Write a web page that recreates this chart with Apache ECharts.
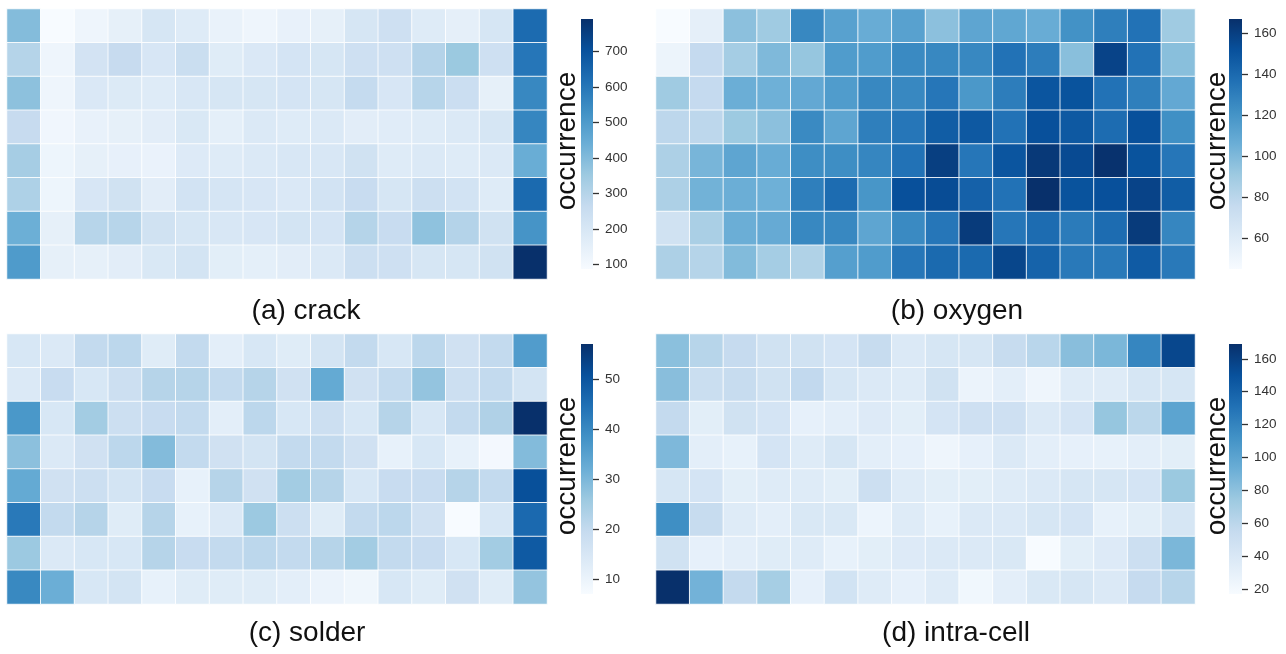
<!DOCTYPE html>
<html>
<head>
<meta charset="utf-8">
<script src="https://cdn.jsdelivr.net/npm/echarts@6/dist/echarts.min.js"></script>
<style>
  html, body { margin: 0; padding: 0; background: #ffffff; }
  #chart { width: 1286px; height: 654px; }
</style>
</head>
<body>
<div id="chart"></div>
<script>
// Occurrence counts per defect type: 8 rows (top to bottom) x 16 columns.
const rowIds = [0, 1, 2, 3, 4, 5, 6, 7];
const colIds = [0, 1, 2, 3, 4, 5, 6, 7, 8, 9, 10, 11, 12, 13, 14, 15];

const crack = [
  [397, 87, 120, 148, 205, 175, 138, 120, 141, 148, 205, 234, 175, 151, 205, 633],
  [300, 120, 217, 261, 201, 248, 172, 190, 212, 205, 234, 234, 303, 356, 234, 602],
  [380, 120, 190, 182, 175, 197, 205, 205, 212, 205, 265, 201, 296, 245, 148, 554],
  [261, 112, 141, 148, 162, 193, 155, 186, 175, 186, 162, 169, 175, 186, 205, 559],
  [334, 121, 148, 145, 134, 179, 175, 186, 197, 197, 227, 175, 186, 175, 186, 443],
  [316, 121, 201, 227, 162, 219, 208, 201, 190, 219, 256, 205, 241, 219, 175, 636],
  [437, 148, 296, 296, 227, 205, 197, 201, 215, 212, 300, 256, 377, 303, 227, 520],
  [499, 148, 148, 162, 193, 215, 160, 155, 162, 186, 241, 234, 205, 205, 227, 792]
];

const oxygen = [
  [45, 56, 96, 90, 126, 113, 107, 113, 96, 111, 110, 107, 121, 130, 136, 90],
  [52, 76, 88, 100, 93, 116, 116, 125, 126, 126, 136, 131, 97, 158, 136, 97],
  [90, 76, 106, 105, 109, 116, 126, 126, 134, 118, 131, 150, 151, 136, 130, 109],
  [79, 79, 91, 96, 125, 111, 130, 134, 146, 148, 136, 152, 148, 139, 152, 122],
  [85, 102, 111, 107, 123, 123, 127, 136, 160, 134, 150, 163, 155, 166, 151, 134],
  [85, 104, 106, 105, 130, 139, 119, 152, 154, 144, 136, 167, 151, 152, 158, 146],
  [69, 86, 106, 108, 126, 126, 111, 125, 134, 162, 134, 139, 132, 139, 162, 127],
  [85, 82, 99, 88, 84, 114, 116, 134, 140, 140, 157, 143, 133, 133, 147, 133]
];

const solder = [
  [15, 14, 20, 21, 13, 20, 12, 15, 13, 16, 20, 15, 21, 17, 20, 36],
  [14, 19, 15, 18, 22, 22, 20, 22, 17, 33, 17, 20, 27, 18, 20, 16],
  [37, 15, 25, 18, 19, 20, 12, 21, 15, 18, 15, 22, 15, 20, 23, 57],
  [28, 14, 17, 21, 29, 20, 17, 16, 20, 20, 17, 11, 15, 11, 8, 29],
  [33, 17, 18, 16, 19, 11, 22, 17, 25, 22, 15, 19, 19, 22, 20, 51],
  [43, 20, 22, 13, 22, 11, 14, 26, 18, 13, 20, 21, 17, 7, 15, 46],
  [26, 14, 15, 15, 22, 19, 20, 21, 20, 22, 25, 20, 19, 15, 25, 49],
  [40, 32, 15, 16, 11, 13, 13, 13, 12, 10, 9, 15, 13, 17, 13, 27]
];

const intraCell = [
  [81, 62, 55, 47, 47, 44, 54, 38, 42, 42, 54, 61, 82, 87, 119, 156],
  [82, 52, 54, 47, 57, 42, 38, 36, 47, 26, 32, 24, 36, 36, 42, 42],
  [56, 33, 47, 44, 30, 32, 37, 33, 44, 49, 49, 38, 44, 77, 60, 100],
  [86, 32, 29, 44, 36, 42, 32, 30, 24, 30, 38, 32, 30, 29, 32, 33],
  [42, 44, 33, 36, 36, 33, 50, 36, 33, 33, 36, 38, 42, 42, 44, 75],
  [114, 54, 36, 32, 40, 40, 25, 36, 29, 38, 38, 42, 44, 29, 33, 42],
  [47, 30, 32, 35, 36, 29, 33, 37, 38, 38, 40, 17, 33, 37, 50, 87],
  [169, 90, 56, 70, 30, 46, 36, 30, 36, 22, 32, 40, 42, 38, 55, 62]
];

// Colour-bar tick values
const crackTicks = [100, 200, 300, 400, 500, 600, 700];
const oxygenTicks = [60, 80, 100, 120, 140, 160];
const solderTicks = [10, 20, 30, 40, 50];
const intraCellTicks = [20, 40, 60, 80, 100, 120, 140, 160];

const panelTitles = ['(a) crack', '(b) oxygen', '(c) solder', '(d) intra-cell'];
const colorbarLabel = 'occurrence';

// Sequential "Blues" palette
const BLUES = ['#f7fbff', '#deebf7', '#c6dbef', '#9ecae1', '#6baed6',
               '#4292c6', '#2171b5', '#08519c', '#08306b'];

const FONT = "'Liberation Sans', Arial, Helvetica, sans-serif";

const panels = [
  { rows: crack, ticks: crackTicks },
  { rows: oxygen, ticks: oxygenTicks },
  { rows: solder, ticks: solderTicks },
  { rows: intraCell, ticks: intraCellTicks }
];

// Page layout for each panel (pixels)
const layout = [
  { heat: { left: 7,   top: 9,   width: 540, height: 270 }, bar: { left: 581,  top: 19,  width: 12, height: 250 }, title: [306, 311.5], label: [567.5, 141] },
  { heat: { left: 656, top: 9,   width: 539, height: 270 }, bar: { left: 1229, top: 19,  width: 13, height: 250 }, title: [957, 311.5], label: [1217, 141] },
  { heat: { left: 7,   top: 334, width: 540, height: 270 }, bar: { left: 581,  top: 344, width: 12, height: 250 }, title: [307, 633.5], label: [567.5, 466] },
  { heat: { left: 656, top: 334, width: 539, height: 270 }, bar: { left: 1229, top: 344, width: 13, height: 250 }, title: [956, 633.5], label: [1217, 466] }
];

const grid = [], xAxis = [], yAxis = [], series = [], visualMap = [], graphic = [];

const barStops = BLUES.map((c, i) => ({ offset: i / (BLUES.length - 1), color: c }));

panels.forEach((p, k) => {
  const flat = p.rows.flat();
  const vmin = Math.min(...flat);
  const vmax = Math.max(...flat);
  const L = layout[k];

  // heatmap grid
  grid.push(Object.assign({ containLabel: false }, L.heat));
  xAxis.push({ type: 'category', gridIndex: 2 * k, data: colIds, show: false });
  yAxis.push({ type: 'category', gridIndex: 2 * k, data: rowIds, inverse: true, show: false });

  // colour-bar grid
  grid.push(Object.assign({ containLabel: false }, L.bar));
  xAxis.push({ type: 'value', gridIndex: 2 * k + 1, min: 0, max: 1, show: false });
  yAxis.push({
    type: 'value', gridIndex: 2 * k + 1, min: vmin, max: vmax, position: 'right',
    z: 10,
    axisLine: { show: true, onZero: false, lineStyle: { color: '#333333', width: 1, opacity: 0 } },
    splitLine: { show: false },
    axisTick: { show: true, length: 6, inside: false, customValues: p.ticks,
                lineStyle: { color: '#333333', width: 1.3, opacity: 1 } },
    axisLabel: { show: true, customValues: p.ticks, margin: 12, fontSize: 13.5,
                 color: '#333333', fontFamily: FONT }
  });

  visualMap.push({
    type: 'continuous', show: false, seriesIndex: k,
    min: vmin, max: vmax, inRange: { color: BLUES }
  });

  graphic.push({
    type: 'text', x: L.title[0], y: L.title[1], silent: true,
    style: { text: panelTitles[k], fontSize: 28, fontFamily: FONT, fill: '#111111',
             align: 'center', verticalAlign: 'middle' }
  });
  graphic.push({
    type: 'text', x: L.label[0], y: L.label[1], rotation: Math.PI / 2, silent: true,
    style: { text: colorbarLabel, fontSize: 28, fontFamily: FONT, fill: '#111111',
             align: 'center', verticalAlign: 'middle' }
  });
});

// heatmap series (indices 0..3)
panels.forEach((p, k) => {
  series.push({
    type: 'heatmap',
    xAxisIndex: 2 * k, yAxisIndex: 2 * k,
    data: p.rows.flatMap((row, i) => row.map((v, j) => [colIds[j], rowIds[i], v])),
    itemStyle: { borderColor: 'rgba(255,255,255,0.85)', borderWidth: 1 },
    emphasis: { disabled: true },
    progressive: 0,
    animation: false
  });
});

// colour-bar series (indices 4..7): one gradient rectangle spanning [vmin, vmax]
panels.forEach((p, k) => {
  const flat = p.rows.flat();
  const vmin = Math.min(...flat);
  const vmax = Math.max(...flat);
  series.push({
    type: 'custom',
    xAxisIndex: 2 * k + 1, yAxisIndex: 2 * k + 1,
    silent: true,
    z: 1,
    encode: { x: 0, y: [1, 2] },
    data: [[0, vmin, vmax]],
    renderItem: (params, api) => {
      const topLeft = api.coord([0, api.value(2)]);
      const botRight = api.coord([1, api.value(1)]);
      return {
        type: 'rect',
        shape: { x: topLeft[0], y: topLeft[1],
                 width: botRight[0] - topLeft[0], height: botRight[1] - topLeft[1] },
        style: { fill: new echarts.graphic.LinearGradient(0, 1, 0, 0, barStops), stroke: null }
      };
    },
    animation: false
  });
});

const chart = echarts.init(document.getElementById('chart'), null, { renderer: 'canvas' });
chart.setOption({
  backgroundColor: '#ffffff',
  animation: false,
  grid, xAxis, yAxis, visualMap, series, graphic
});
</script>
</body>
</html>
